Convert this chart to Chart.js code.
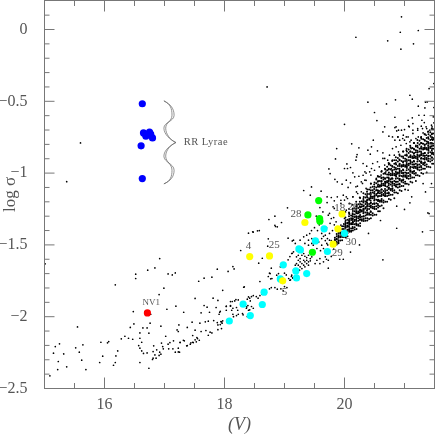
<!DOCTYPE html>
<html>
<head>
<meta charset="utf-8">
<script src="https://cdn.jsdelivr.net/npm/chart.js@4"></script>
<style>
  body { margin: 0; background: #fff; }
  canvas { display: block; }
</style>
</head>
<body>
<canvas id="chart" width="436" height="436"></canvas>
<script>
const xMajorTicks = [16, 18, 20];
const xMinorTicks = [15.5, 16.5, 17, 17.5, 18.5, 19, 19.5, 20.5, 21];
const yMajorTicks = [0, -0.5, -1, -1.5, -2, -2.5];
const yMinorTicks = [0.1, -0.1, -0.2, -0.3, -0.4, -0.6, -0.7, -0.8, -0.9, -1.1, -1.2, -1.3, -1.4,
  -1.6, -1.7, -1.8, -1.9, -2.1, -2.2, -2.3, -2.4];

const rrLyrae = [[16.63, -0.517], [16.65, -0.72], [16.75, -0.715], [16.69, -0.743], [16.77, -0.729],
  [16.8, -0.755], [16.61, -0.81], [16.63, -1.038]];
const novaStar = [[16.715, -1.974]];
const cyanStars = [[18.08, -2.03], [18.31, -1.913], [18.43, -1.992], [18.63, -1.915], [18.66, -1.829],
  [18.93, -1.737], [18.98, -1.639], [19.19, -1.681], [19.2, -1.73], [19.37, -1.7], [19.24, -1.528],
  [19.265, -1.535], [19.515, -1.472], [19.715, -1.546], [19.66, -1.388], [20, -1.42]];
const yellowStars = [[18.42, -1.581], [18.75, -1.577], [18.97, -1.75], [19.81, -1.495], [19.89, -1.388],
  [19.34, -1.344], [19.96, -1.284]];
const greenStars = [[19.465, -1.551], [19.59, -1.335], [19.585, -1.316], [19.57, -1.191], [19.39, -1.291]];

// sparse field stars left to right
const fieldFaintEnd = [[15.01, -1.632], [16.92, -1.595], [16.84, -1.66], [16.72, -1.676], [16.52, -1.704],
  [16.52, -1.734], [16.18, -1.778], [17.06, -1.702], [17.13, -1.709], [17.18, -1.695], [17.88, -1.669],
  [17.79, -1.725], [17.66, -1.732], [17.57, -1.753], [16.99, -1.801], [16.91, -1.846], [17.51, -1.873],
  [17.81, -1.871], [17.89, -1.887], [17.66, -1.922], [17.71, -1.934], [17.86, -1.936], [17.19, -1.927],
  [17.04, -1.948], [16.48, -1.964], [17.32, -1.969], [16.77, -1.983], [17.61, -1.973], [17.75, -1.969],
  [17.46, -2.038], [17.59, -2.045], [17.68, -2.036], [17.73, -2.031], [17.82, -2.027], [17.88, -2.041],
  [16.49, -2.05], [16.76, -2.045], [17.24, -2.057], [15.55, -2.071], [16.43, -2.075], [16.64, -2.078],
  [16.71, -2.078], [16.94, -2.066], [16.59, -2.113], [16.74, -2.115], [17.21, -2.092], [17.23, -2.103],
  [17.38, -2.075], [17.51, -2.094], [17.61, -2.103], [17.69, -2.096], [17.76, -2.108], [17.47, -2.131],
  [17.54, -2.145], [17.51, -2.161], [17.47, -2.178], [16.34, -2.136], [16.4, -2.15], [16.28, -2.154],
  [16.47, -2.157], [16.59, -2.15], [17.02, -2.136], [16.62, -2.178], [15.94, -2.178], [16.07, -2.173],
  [16.05, -2.182], [15.25, -2.189], [15.18, -2.208], [15.64, -2.196], [15.52, -2.217], [16.57, -2.201],
  [16.82, -2.203], [16.95, -2.184], [16.97, -2.208], [17.15, -2.168], [17.09, -2.18], [17.06, -2.191],
  [17.26, -2.178], [17.33, -2.168], [17.38, -2.201], [17.43, -2.191], [16.59, -2.219], [16.62, -2.238],
  [16.65, -2.256], [16.71, -2.252], [16.81, -2.243], [16.87, -2.231], [16.98, -2.224], [17.07, -2.224],
  [17.14, -2.224], [17.23, -2.219], [17.18, -2.247], [17.25, -2.247], [16.22, -2.238], [16.19, -2.273],
  [15.58, -2.247], [15.15, -2.254], [15.32, -2.259], [15.97, -2.275], [15.62, -2.303], [15.23, -2.312],
  [15.92, -2.319], [16.18, -2.319], [16.15, -2.338], [16.59, -2.319], [16.84, -2.266], [16.92, -2.247],
  [16.94, -2.261], [16.91, -2.27], [16.81, -2.289], [16.8, -2.298], [16.86, -2.289], [15.37, -2.349],
  [15.22, -2.368], [15.69, -2.368], [16.74, -2.359], [15.09, -2.412], [15.6, -0.79], [15.37, -1.06]];

const fieldMiddle = [[17.97, -1.816], [18.33, -1.792], [18.1, -1.895], [18.03, -1.927], [18.1, -1.927],
  [18.19, -1.881], [18.4, -1.862], [18.43, -1.89], [18.37, -1.932], [18.4, -1.955], [17.93, -1.962],
  [17.91, -1.983], [18.03, -1.955], [18.12, -1.955], [18.22, -1.955], [18.23, -1.983], [18.3, -1.978],
  [18.15, -2], [17.95, -2.036], [17.97, -2.029], [17.93, -2.055], [17.89, -2.09], [17.95, -2.083],
  [17.79, -2.113], [17.73, -2.129], [17.55, -2.152], [17.58, -2.164], [17.48, -2.18], [17.44, -2.182],
  [17.53, -2.175], [17.315, -2.164], [17.26, -2.18], [17.37, -2.203], [17.23, -2.245],
  [18.27, -1.539], [18.4, -1.418], [18.48, -1.411], [18.58, -1.4], [18.06, -1.685], [18.14, -1.651],
  [18.16, -1.667], [18.32, -1.795], [18.59, -1.755], [18.57, -1.627], [18.63, -1.593], [18.73, -1.458],
  [18.72, -1.509], [18.74, -1.323], [18.85, -1.372], [18.95, -1.344], [19.06, -1.453], [19.13, -1.472],
  [18.78, -1.662], [18.75, -1.697], [18.73, -1.72], [18.77, -1.736], [19.09, -1.581], [19.06, -1.604],
  [19.13, -1.558], [19, -1.697], [19.03, -1.709], [19.115, -1.72], [19.1, -1.743], [19.14, -1.732],
  [18.78, -1.797], [18.84, -1.797], [18.88, -1.808], [18.94, -1.806], [19, -1.79], [19.04, -1.797],
  [18.75, -1.806], [18.98, -1.82], [18.45, -1.86], [18.48, -1.853], [18.42, -1.871], [18.38, -1.878],
  [18.53, -1.86], [18.59, -1.853], [18.56, -1.871], [18.62, -1.843], [18.23, -1.883], [18.17, -1.89],
  [18.13, -1.894], [18.03, -1.929], [18.1, -1.922], [18.14, -1.941], [18.2, -1.936], [18.39, -1.922],
  [18.45, -1.929], [18.365, -1.941], [18.42, -1.952], [18.48, -1.941], [18.14, -1.983], [18.2, -1.992],
  [18.31, -1.987], [18.38, -1.999], [17.94, -2.034], [17.96, -2.045], [17.92, -1.969], [17.89, -2.057],
  [18.47, -1.409], [18.55, -1.402], [18.84, -1.363], [18.88, -1.374], [19.15, -1.467], [19.18, -1.49],
  [19.12, -1.56], [19.15, -1.548], [19.32, -1.444], [19.37, -1.432], [19.42, -1.421], [19.455, -1.456],
  [19.4, -1.467], [19.34, -1.49], [19.4, -1.502], [19.455, -1.49], [19.26, -1.467], [19.2, -1.583],
  [19.23, -1.572], [19.26, -1.595], [19.29, -1.572], [19.32, -1.56], [19.34, -1.579], [19.37, -1.588],
  [19.4, -1.572], [19.43, -1.595], [19.455, -1.583], [19.23, -1.607], [19.26, -1.618], [19.29, -1.63],
  [19.32, -1.607], [19.34, -1.618], [19.37, -1.63], [19.4, -1.618], [19.43, -1.611], [19.2, -1.63],
  [19.23, -1.641], [19.26, -1.653], [19.32, -1.641], [19.34, -1.653], [19.29, -1.665], [19.4, -1.641],
  [19.18, -1.641], [19.37, -1.607], [19.25, -1.676], [19.15, -1.676], [19.12, -1.711], [19.07, -1.734],
  [19.09, -1.746], [19.14, -1.727], [19.48, -1.502], [19.54, -1.525], [19.57, -1.479], [19.62, -1.456],
  [19.68, -1.432], [19.62, -1.502], [19.65, -1.525], [19.705, -1.49], [19.54, -1.607], [19.59, -1.595],
  [19.65, -1.618], [19.73, -1.607], [19.51, -1.63], [19.59, -1.63], [19.68, -1.583], [19.73, -1.548],
  [19.75, -1.467], [19.715, -1.456], [18.93, -1.653], [18.9, -1.7], [18.87, -1.711], [18.9, -1.723],
  [18.76, -1.7], [18.79, -1.734], [19.62, -1.42], [19.7, -1.38], [19.75, -1.42], [19.78, -1.47],
  [19.8, -1.4], [19.72, -1.5], [19.75, -1.55], [19.78, -1.58], [19.82, -1.53], [19.7, -1.6], [19.65, -1.44],
  [19.6, -1.54], [19.68, -1.47], [19.76, -1.35], [19.83, -1.36], [19.82, -1.31], [19.55, -1.4], [19.5, -1.38],
  [19.58, -1.36], [19.45, -1.4], [19.92, -1.6], [19.98, -1.6], [20.1, -1.55], [20.25, -1.5], [20.4, -1.42],
  [20.6, -1.33], [19.73, -1.662], [20.87, -1.384], [21.3, -1.409], [20.64, -1.604]];

const fieldBright = [[20.95, 0.088], [20.93, -0.019], [21.23, -0.007], [20.19, -0.054], [20.72, -0.079],
  [21.15, -0.1], [20.94, -0.137], [18.71, -0.4], [21.49, -0.376], [21.41, -0.411], [21.09, -0.458],
  [21.13, -0.485], [20.85, -0.49], [20.39, -0.506], [20.7, -0.518], [21.23, -0.534], [21.35, -0.506],
  [21.38, -0.504], [21.34, -0.546], [21.49, -0.543], [20.5, -0.578], [20.54, -0.634], [20.84, -0.611],
  [21.24, -0.597], [21.33, -0.597], [21.13, -0.615], [21.06, -0.632], [21.29, -0.632], [21.33, -0.648],
  [21.48, -0.608], [20, -0.66], [20.67, -0.678], [20.64, -0.713], [20.74, -0.743], [20.84, -0.683],
  [20.87, -0.706], [20.95, -0.701], [21, -0.697], [21.07, -0.673], [21.14, -0.655], [21.22, -0.69],
  [21.28, -0.673], [21.37, -0.69], [21.45, -0.666], [21.49, -0.65], [21.39, -0.713], [21.31, -0.72],
  [21.23, -0.748], [21.14, -0.724], [21.06, -0.748], [20.98, -0.736], [20.89, -0.748], [20.84, -0.771],
  [20.92, -0.771], [21, -0.771], [21.09, -0.782], [20.48, -0.771], [20.12, -0.796], [20.45, -0.817],
  [20.24, -0.824], [19.87, -0.829], [20.39, -0.84], [20.43, -0.868], [20.55, -0.845], [20.64, -0.859],
  [20.21, -0.871], [20.2, -0.887], [20.19, -0.91], [19.85, -0.901], [20.04, -0.936], [20, -0.968],
  [20.1, -0.961], [20.05, -0.968], [20.31, -0.933], [20.37, -0.952], [20.45, -0.968], [20.42, -0.991],
  [20.34, -0.991], [19.74, -0.971], [19.76, -1.003], [20.14, -0.998], [20.17, -1.026], [20.24, -1.022],
  [20.31, -1.015], [19.84, -1.043], [19.88, -1.061], [19.96, -1.077], [20.03, -1.049], [20.1, -1.068],
  [20.06, -1.1], [20.215, -1.091], [20.28, -1.061], [20.34, -1.049], [19.45, -1.096], [19.32, -1.121],
  [19.43, -1.154], [19.61, -1.126], [19.71, -1.165], [19.78, -1.17], [19.88, -1.165], [19.83, -1.193],
  [19.98, -1.154], [19.94, -1.189], [19.71, -1.205], [19.81, -1.235], [19.05, -1.242], [18.84, -1.3],
  [19.59, -1.24], [19.64, -1.27], [19.73, -1.293], [19.53, -1.3], [20.09, -1.212], [20.03, -1.165],
  [20.14, -1.165], [20.2, -1.131], [21.06, -1.119], [21.12, -1.165], [21.09, -1.207], [20.87, -1.23],
  [21, -1.253], [21.39, -1.277], [21.31, -1.073], [21.45, -1.073], [21.35, -1.131], [21.41, -1.282]];

const fieldCloud = [[20.36, -1.05], [20.44, -1.014], [20.5, -0.98], [20.58, -0.956], [20.67, -0.944],
  [20.75, -0.933], [20.36, -1], [20.3, -1.072], [20.19, -1.095], [20.22, -1.142], [20.14, -1.165],
  [20.05, -1.177], [20.08, -1.211], [20, -1.188], [19.94, -1.211], [20.28, -1.13], [20.36, -1.107],
  [20.44, -1.072], [20.53, -1.037], [20.61, -1.014], [20.69, -0.991], [20.78, -0.968], [20.83, -0.91],
  [20.72, -0.91], [20.64, -0.898], [20.55, -0.921], [20.47, -0.933], [20.86, -0.678], [20.9, -0.701],
  [20.8, -0.748], [20.89, -0.748], [20.97, -0.759], [21.03, -0.748], [21.08, -0.678], [21.14, -0.701],
  [21.22, -0.701], [21.3, -0.69], [21.36, -0.678], [21.42, -0.701], [21.46, -0.678], [21.28, -0.748],
  [21.36, -0.736], [21.44, -0.748], [21.19, -0.759], [21.11, -0.771], [21.03, -0.794], [20.94, -0.806],
  [20.86, -0.817], [20.8, -0.829], [21.19, -0.806], [21.3, -0.794], [21.39, -0.782], [21.47, -0.771],
  [20.9, -0.852], [21.03, -0.84], [21.11, -0.829], [20.75, -0.875], [20.83, -0.875], [20.67, -0.898],
  [19.75, -1.281], [19.83, -1.246], [19.78, -1.316], [20.03, -1.258], [20.08, -1.281], [20.14, -1.246],
  [19.86, -1.339], [20, -1.316], [20.05, -1.351], [20.14, -1.304], [20.22, -1.281], [19.94, -1.362],
  [20.28, -1.235], [20.36, -1.2], [20.44, -1.165], [20.53, -1.119], [20.61, -1.084], [20.69, -1.06],
  [20.78, -1.037]];

// the dense ridge, V of each column and the log sigma values read in that column
const ridgeV = [19.84, 19.87, 19.9, 19.93, 19.96, 19.99, 20.02, 20.05, 20.08, 20.11, 20.14, 20.17, 20.2,
  20.23, 20.26, 20.29, 20.32, 20.35, 20.38, 20.41, 20.44, 20.47, 20.5, 20.53, 20.56, 20.59, 20.62, 20.65,
  20.68, 20.71, 20.74, 20.77, 20.8, 20.83, 20.86, 20.89, 20.92, 20.95, 20.98, 21.01, 21.04, 21.07, 21.1,
  21.13, 21.16, 21.19, 21.22, 21.25, 21.28, 21.31, 21.34, 21.37, 21.4, 21.43, 21.46, 21.49];
const ridgeSigma = [
  [-1.503, -1.49, -1.485, -1.47, -1.463, -1.45],
  [-1.498, -1.487, -1.479, -1.462, -1.457, -1.44, -1.424],
  [-1.489, -1.48, -1.468, -1.45, -1.444, -1.432, -1.417, -1.39],
  [-1.47, -1.446, -1.44, -1.422, -1.413, -1.398],
  [-1.468, -1.445, -1.435, -1.428, -1.412, -1.39, -1.37],
  [-1.445, -1.425, -1.419, -1.403, -1.39, -1.37, -1.354],
  [-1.448, -1.441, -1.424, -1.406, -1.399, -1.378, -1.368, -1.35, -1.329],
  [-1.44, -1.419, -1.405, -1.395, -1.374, -1.367, -1.346, -1.325],
  [-1.409, -1.398, -1.383, -1.36, -1.353, -1.338, -1.319, -1.285],
  [-1.409, -1.401, -1.386, -1.356, -1.349, -1.326, -1.315, -1.296],
  [-1.4, -1.384, -1.356, -1.344, -1.336, -1.316, -1.288, -1.264],
  [-1.393, -1.377, -1.357, -1.333, -1.325, -1.305, -1.289, -1.265, -1.245],
  [-1.39, -1.364, -1.356, -1.334, -1.313, -1.304, -1.279, -1.266, -1.245, -1.22],
  [-1.366, -1.358, -1.332, -1.315, -1.302, -1.277, -1.268, -1.243, -1.217],
  [-1.368, -1.35, -1.323, -1.309, -1.291, -1.264, -1.255, -1.237, -1.215, -1.174],
  [-1.331, -1.322, -1.304, -1.268, -1.259, -1.232, -1.218, -1.196],
  [-1.334, -1.32, -1.302, -1.27, -1.257, -1.248, -1.226, -1.194, -1.167],
  [-1.332, -1.314, -1.296, -1.274, -1.247, -1.238, -1.215, -1.197, -1.17, -1.148],
  [-1.33, -1.315, -1.285, -1.275, -1.25, -1.225, -1.215, -1.185, -1.17, -1.145, -1.115],
  [-1.32, -1.29, -1.28, -1.25, -1.23, -1.215, -1.185, -1.175, -1.145, -1.115],
  [-1.315, -1.29, -1.27, -1.24, -1.225, -1.205, -1.175, -1.165, -1.145, -1.12, -1.075],
  [-1.295, -1.28, -1.245, -1.235, -1.215, -1.175, -1.165, -1.135, -1.12, -1.095],
  [-1.29, -1.25, -1.235, -1.215, -1.18, -1.165, -1.155, -1.13, -1.095, -1.065],
  [-1.29, -1.25, -1.23, -1.21, -1.185, -1.155, -1.145, -1.12, -1.1, -1.07, -1.045],
  [-1.265, -1.24, -1.225, -1.195, -1.185, -1.16, -1.135, -1.125, -1.095, -1.08, -1.055, -1.025],
  [-1.265, -1.23, -1.2, -1.19, -1.16, -1.14, -1.125, -1.095, -1.085, -1.055, -1.025],
  [-1.225, -1.2, -1.18, -1.15, -1.135, -1.115, -1.085, -1.075, -1.055, -1.03, -0.985],
  [-1.245, -1.205, -1.19, -1.155, -1.145, -1.125, -1.085, -1.075, -1.045, -1.03, -1.005],
  [-1.2, -1.16, -1.145, -1.125, -1.09, -1.075, -1.065, -1.04, -1.005, -0.975],
  [-1.2, -1.16, -1.14, -1.12, -1.095, -1.065, -1.055, -1.03, -1.01, -0.98, -0.955],
  [-1.18, -1.155, -1.14, -1.11, -1.1, -1.075, -1.05, -1.04, -1.01, -0.995, -0.97, -0.94],
  [-1.185, -1.15, -1.12, -1.11, -1.08, -1.06, -1.045, -1.015, -1.005, -0.975, -0.945],
  [-1.15, -1.125, -1.105, -1.075, -1.06, -1.04, -1.01, -1, -0.98, -0.955, -0.91],
  [-1.175, -1.135, -1.12, -1.085, -1.075, -1.055, -1.015, -1.005, -0.975, -0.96, -0.935],
  [-1.135, -1.095, -1.08, -1.06, -1.025, -1.01, -1, -0.975, -0.94, -0.91],
  [-1.14, -1.1, -1.08, -1.06, -1.035, -1.005, -0.995, -0.97, -0.95, -0.92, -0.895],
  [-1.12, -1.095, -1.08, -1.05, -1.04, -1.015, -0.99, -0.98, -0.95, -0.935, -0.91, -0.88],
  [-1.125, -1.09, -1.06, -1.05, -1.02, -1, -0.985, -0.955, -0.945, -0.915, -0.885],
  [-1.09, -1.065, -1.045, -1.015, -1, -0.98, -0.95, -0.94, -0.92, -0.895, -0.85],
  [-1.115, -1.075, -1.06, -1.025, -1.015, -0.995, -0.955, -0.945, -0.915, -0.9, -0.875],
  [-1.075, -1.035, -1.02, -1, -0.965, -0.95, -0.94, -0.915, -0.88, -0.85],
  [-1.08, -1.04, -1.02, -1, -0.975, -0.945, -0.935, -0.91, -0.89, -0.86, -0.835],
  [-1.06, -1.035, -1.02, -0.99, -0.98, -0.955, -0.93, -0.92, -0.89, -0.875, -0.85, -0.82],
  [-1.065, -1.03, -1, -0.99, -0.96, -0.94, -0.925, -0.895, -0.885, -0.855, -0.825],
  [-1.03, -1.005, -0.985, -0.955, -0.94, -0.92, -0.89, -0.88, -0.86, -0.835, -0.79],
  [-1.055, -1.015, -1, -0.965, -0.955, -0.935, -0.895, -0.885, -0.855, -0.84, -0.815],
  [-1.015, -0.975, -0.96, -0.94, -0.905, -0.89, -0.88, -0.855, -0.82, -0.79],
  [-1.02, -0.98, -0.96, -0.94, -0.915, -0.885, -0.875, -0.85, -0.83, -0.8, -0.775],
  [-1, -0.975, -0.96, -0.93, -0.92, -0.895, -0.87, -0.86, -0.83, -0.815, -0.79, -0.76],
  [-1.005, -0.97, -0.94, -0.93, -0.9, -0.88, -0.865, -0.835, -0.825, -0.795, -0.765],
  [-0.97, -0.945, -0.925, -0.895, -0.88, -0.86, -0.83, -0.82, -0.8, -0.775, -0.73],
  [-0.995, -0.955, -0.94, -0.905, -0.895, -0.875, -0.835, -0.825, -0.795, -0.78, -0.755],
  [-0.955, -0.915, -0.9, -0.88, -0.845, -0.83, -0.82, -0.795, -0.76, -0.73],
  [-0.96, -0.92, -0.9, -0.88, -0.855, -0.825, -0.815, -0.79, -0.77, -0.74, -0.715],
  [-0.935, -0.91, -0.895, -0.865, -0.855, -0.83, -0.805, -0.795, -0.765, -0.75, -0.725, -0.695],
  [-0.935, -0.9, -0.87, -0.86, -0.83, -0.81, -0.795, -0.765, -0.755, -0.725, -0.695]
];

// more stars in the thick of the ridge, between the columns above
const coreV = [20.015, 20.075, 20.135, 20.195, 20.255, 20.315, 20.375, 20.435, 20.495, 20.555, 20.615, 20.675,
  20.735, 20.795, 20.855, 20.915, 20.975, 21.035, 21.095, 21.155, 21.215, 21.275, 21.335, 21.395, 21.455];
const coreSigma = [
  [-1.43, -1.405, -1.38, -1.36, -1.34, -1.31, -1.27],
  [-1.395, -1.37, -1.345, -1.33, -1.3, -1.275, -1.25],
  [-1.375, -1.345, -1.325, -1.3, -1.28, -1.25, -1.22],
  [-1.35, -1.325, -1.3, -1.275, -1.255, -1.23, -1.2],
  [-1.325, -1.3, -1.275, -1.255, -1.23, -1.2, -1.17],
  [-1.3, -1.28, -1.25, -1.23, -1.205, -1.18, -1.14],
  [-1.29, -1.26, -1.235, -1.205, -1.19, -1.16, -1.13],
  [-1.265, -1.235, -1.21, -1.19, -1.16, -1.135, -1.1],
  [-1.245, -1.21, -1.19, -1.165, -1.14, -1.11, -1.08],
  [-1.215, -1.19, -1.165, -1.14, -1.12, -1.09, -1.06, -1.02],
  [-1.19, -1.16, -1.135, -1.115, -1.09, -1.06, -1.035, -0.99],
  [-1.16, -1.135, -1.11, -1.085, -1.06, -1.035, -1, -0.97],
  [-1.135, -1.105, -1.085, -1.06, -1.03, -1.01, -0.975, -0.93],
  [-1.11, -1.09, -1.065, -1.035, -1.015, -0.985, -0.95, -0.915],
  [-1.09, -1.06, -1.04, -1.015, -0.99, -0.965, -0.93, -0.89],
  [-1.075, -1.045, -1.02, -1, -0.97, -0.94, -0.905, -0.87],
  [-1.05, -1.025, -1, -0.975, -0.95, -0.925, -0.885, -0.85],
  [-1.03, -1.005, -0.98, -0.955, -0.93, -0.905, -0.87, -0.83],
  [-1.01, -0.985, -0.965, -0.935, -0.91, -0.885, -0.85, -0.81],
  [-0.99, -0.965, -0.94, -0.915, -0.895, -0.865, -0.83, -0.79],
  [-0.97, -0.945, -0.92, -0.9, -0.87, -0.845, -0.81, -0.77],
  [-0.95, -0.925, -0.9, -0.875, -0.85, -0.825, -0.79, -0.75],
  [-0.93, -0.905, -0.88, -0.86, -0.83, -0.805, -0.77, -0.73],
  [-0.915, -0.885, -0.86, -0.835, -0.81, -0.785, -0.75, -0.71],
  [-0.89, -0.865, -0.84, -0.815, -0.79, -0.765, -0.73, -0.69]
];

const starLabels = ["4", "25", "5", "30", "29", "28", "18", "20", "NV1"];
const starLabelV = [18.4, 18.83, 19, 20.11, 19.88, 19.19, 19.92, 20.14, 16.78];
const starLabelSigma = [-1.507, -1.504, -1.83, -1.479, -1.56, -1.288, -1.245, -1.238, -1.904];

const toPoint = (pair) => ({ x: pair[0], y: pair[1] });
const ridgePoints = [];
ridgeV.forEach((v, i) => {
  ridgeSigma[i].forEach((s) => ridgePoints.push({ x: v, y: s }));
});
coreV.forEach((v, i) => {
  coreSigma[i].forEach((s) => ridgePoints.push({ x: v, y: s }));
});
const dotPoints = fieldFaintEnd.concat(fieldMiddle, fieldBright, fieldCloud).map(toPoint);

function bigStars(label, stars, color) {
  return {
    label: label,
    data: stars.map(toPoint),
    backgroundColor: color,
    borderWidth: 0,
    pointRadius: 3.6,
  };
}

function dots(label, points, radius) {
  return {
    label: label,
    data: points,
    backgroundColor: "#000",
    borderWidth: 0,
    pointRadius: radius,
  };
}

const axisColor = "#777";
const textColor = "#555";
const serif = '"Liberation Serif", serif';

// ticks point inward on all four sides, which the library does not do by itself
const frameTicks = {
  id: "frameTicks",
  afterDatasetsDraw(chart) {
    const { ctx, chartArea: a, scales } = chart;
    ctx.save();
    ctx.strokeStyle = axisColor;
    ctx.lineWidth = 1;
    ctx.strokeRect(a.left, a.top, a.right - a.left, a.bottom - a.top);
    ctx.beginPath();
    const xTick = (v, len) => {
      const px = scales.x.getPixelForValue(v);
      ctx.moveTo(px, a.bottom);
      ctx.lineTo(px, a.bottom - len);
      ctx.moveTo(px, a.top);
      ctx.lineTo(px, a.top + len);
    };
    const yTick = (v, len) => {
      const py = scales.y.getPixelForValue(v);
      ctx.moveTo(a.left, py);
      ctx.lineTo(a.left + len, py);
      ctx.moveTo(a.right, py);
      ctx.lineTo(a.right - len, py);
    };
    xMajorTicks.forEach((v) => xTick(v, 11));
    xMinorTicks.forEach((v) => xTick(v, 5.5));
    yMajorTicks.forEach((v) => yTick(v, 10));
    yMinorTicks.forEach((v) => yTick(v, 5));
    ctx.stroke();
    ctx.restore();
  },
};

const annotations = {
  id: "annotations",
  afterDatasetsDraw(chart) {
    const { ctx, scales } = chart;
    const px = (v) => scales.x.getPixelForValue(v);
    const py = (s) => scales.y.getPixelForValue(s);
    ctx.save();
    ctx.fillStyle = textColor;
    ctx.textAlign = "center";
    ctx.textBaseline = "middle";
    starLabels.forEach((text, i) => {
      ctx.font = (text === "NV1" ? "9px " : "11px ") + serif;
      ctx.fillText(text, px(starLabelV[i]), py(starLabelSigma[i]));
    });
    ctx.font = "10.5px " + serif;
    ctx.letterSpacing = "0.5px";
    ctx.fillText("RR Lyrae", px(17.69), py(-0.783));
    ctx.letterSpacing = "0px";

    // the double brace next to the RR Lyrae stars
    const brace = (peak, trough) => {
      const left = 16.99;
      ctx.beginPath();
      ctx.moveTo(px(left), py(-0.497));
      ctx.bezierCurveTo(px(17.1), py(-0.52), px(peak), py(-0.55), px(peak), py(-0.597));
      ctx.bezierCurveTo(px(peak), py(-0.64), px(trough), py(-0.645), px(trough), py(-0.687));
      ctx.bezierCurveTo(px(trough), py(-0.73), px(17.1), py(-0.77), px(17.19), py(-0.787));
      ctx.bezierCurveTo(px(17.1), py(-0.805), px(trough), py(-0.84), px(trough), py(-0.882));
      ctx.bezierCurveTo(px(trough), py(-0.925), px(peak), py(-0.935), px(peak), py(-0.98));
      ctx.bezierCurveTo(px(peak), py(-1.025), px(17.1), py(-1.055), px(left), py(-1.075));
      ctx.stroke();
    };
    ctx.strokeStyle = "#666";
    ctx.lineWidth = 0.7;
    brace(17.16, 16.99);
    brace(17.125, 17.02);
    ctx.restore();
  },
};

new Chart(document.getElementById("chart"), {
  type: "scatter",
  data: {
    datasets: [
      bigStars("yellow", yellowStars, "#ffff00"),
      bigStars("green", greenStars, "#00ff00"),
      bigStars("cyan", cyanStars, "#00ffff"),
      bigStars("NV1", novaStar, "#ff0000"),
      bigStars("RR Lyrae", rrLyrae, "#0000ff"),
      dots("field", dotPoints, 0.85),
      dots("ridge", ridgePoints, 1),
    ],
  },
  options: {
    responsive: false,
    animation: false,
    layout: { autoPadding: false, padding: { top: 0.5, right: 1.5, left: 0, bottom: 0 } },
    plugins: { legend: { display: false }, tooltip: { enabled: false } },
    scales: {
      x: {
        type: "linear",
        min: 15,
        max: 21.5,
        afterBuildTicks: (axis) => { axis.ticks = xMajorTicks.map((v) => ({ value: v })); },
        afterFit: (axis) => {
          axis.height = 47.5;
          axis.paddingLeft = 0;
          axis.paddingRight = 0;
        },
        grid: { display: false },
        border: { display: false },
        ticks: {
          autoSkip: false,
          maxRotation: 0,
          padding: -1,
          color: textColor,
          font: { family: serif, size: 16 },
        },
        title: {
          display: true,
          text: "(V)",
          color: textColor,
          padding: { top: 0, bottom: 0 },
          font: { family: serif, size: 18, style: "italic" },
        },
      },
      y: {
        type: "linear",
        min: -2.5,
        max: 0.202,
        afterBuildTicks: (axis) => { axis.ticks = yMajorTicks.map((v) => ({ value: v })); },
        afterFit: (axis) => {
          axis.width = 44.5;
          axis.paddingTop = 0;
          axis.paddingBottom = 0;
        },
        grid: { display: false },
        border: { display: false },
        ticks: {
          autoSkip: false,
          padding: 9,
          color: textColor,
          font: { family: serif, size: 16 },
          callback: (v) => String(v).replace("-", "\u2212"),
        },
        title: {
          display: true,
          text: "log \u03c3",
          color: textColor,
          padding: { top: 0, bottom: 0 },
          font: { family: serif, size: 17 },
        },
      },
    },
  },
  plugins: [frameTicks, annotations],
});
</script>
</body>
</html>
